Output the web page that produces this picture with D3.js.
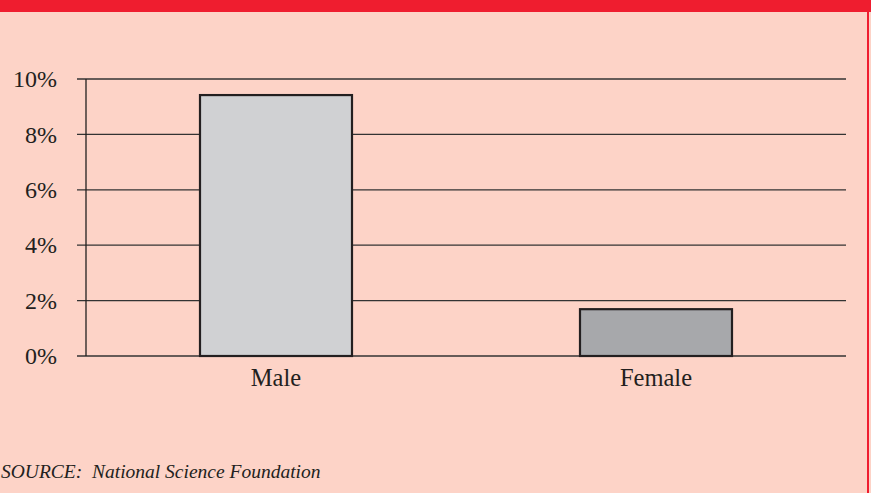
<!DOCTYPE html>
<html>
<head>
<meta charset="utf-8">
<script src="https://cdn.jsdelivr.net/npm/d3@7"></script>
<style>
  body { margin: 0; background: #fdd3c7; }
  svg { display: block; }
</style>
</head>
<body>
<script>
// data
const categories = ['Male', 'Female'];
const values = [9.42, 1.69];            // percent
const barColors = ['#d0d1d3', '#a7a8ab'];
const yTicks = [0, 2, 4, 6, 8, 10];
const source = 'SOURCE:  National Science Foundation';

const width = 871, height = 493;
const margin = {top: 79, right: 25, bottom: 137, left: 86};
const serif = "'Liberation Serif', 'Times New Roman', 'DejaVu Serif', serif";

const svg = d3.select('body').append('svg')
    .attr('width', width).attr('height', height)
    .attr('font-family', serif);

// background + frame
svg.append('rect').attr('width', width).attr('height', height).attr('fill', '#fdd3c7');
svg.append('rect').attr('width', width).attr('height', 12).attr('fill', '#ef1d2f');
svg.append('rect').attr('x', 867).attr('width', 2).attr('height', height).attr('fill', '#ef1d2f');

const x = d3.scaleBand()
    .domain(categories)
    .range([margin.left, width - margin.right])
    .paddingInner(0.6)
    .paddingOuter(0.3);

const y = d3.scaleLinear()
    .domain([0, 10])
    .range([height - margin.bottom, margin.top]);

// gridlines with outward tick marks
const grid = svg.append('g');
grid.selectAll('line.grid')
    .data(yTicks)
    .join('line')
    .classed('grid', true)
    .attr('x1', margin.left - 9).attr('x2', width - margin.right)
    .attr('y1', d => y(d)).attr('y2', d => y(d))
    .attr('stroke', '#333').attr('stroke-width', 1.3);

grid.selectAll('text.tick')
    .data(yTicks)
    .join('text')
    .classed('tick', true)
    .attr('x', 57)
    .attr('y', d => y(d))
    .attr('dy', '0.34em')
    .attr('text-anchor', 'end')
    .attr('font-family', serif)
    .attr('font-size', 24)
    .attr('fill', '#231f20')
    .text(d => d + '%');

// y axis line
svg.append('line')
    .attr('x1', margin.left).attr('x2', margin.left)
    .attr('y1', y(10)).attr('y2', y(0))
    .attr('stroke', '#231f20').attr('stroke-width', 1.3);

// bars
svg.selectAll('rect.bar')
    .data(categories)
    .join('rect')
    .classed('bar', true)
    .attr('x', d => x(d))
    .attr('y', (d, i) => y(values[i]))
    .attr('width', x.bandwidth())
    .attr('height', (d, i) => y(0) - y(values[i]))
    .attr('fill', (d, i) => barColors[i])
    .attr('stroke', '#231f20').attr('stroke-width', 2.2);

// category labels
svg.selectAll('text.cat')
    .data(categories)
    .join('text')
    .classed('cat', true)
    .attr('x', d => x(d) + x.bandwidth() / 2)
    .attr('y', 386)
    .attr('text-anchor', 'middle')
    .attr('font-family', serif)
    .attr('font-size', 24.5)
    .attr('fill', '#231f20')
    .text(d => d);

// source note
svg.append('text')
    .attr('x', 1).attr('y', 477.5)
    .attr('font-family', serif)
    .attr('font-size', 19.5)
    .attr('font-style', 'italic')
    .attr('fill', '#231f20')
    .style('white-space', 'pre')
    .text(source);
</script>
</body>
</html>
